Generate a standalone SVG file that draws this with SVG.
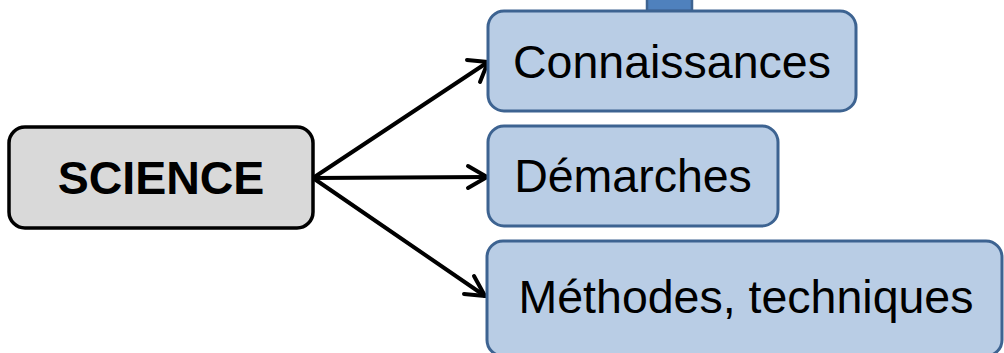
<svg xmlns="http://www.w3.org/2000/svg" width="1004" height="353" viewBox="0 0 1004 353">
<defs>
<style>
.blue{fill:#B9CDE5;stroke:#3D6391;stroke-width:3}
.grey{fill:#D9D9D9;stroke:#000;stroke-width:3.5}
.t{font-family:"Liberation Sans",Arial,sans-serif;font-size:46.5px;fill:#000;text-anchor:middle}
.b{font-weight:bold;font-size:46.5px}
.c{fill:none;stroke:#000;stroke-width:4;stroke-linecap:round;stroke-linejoin:round}
</style>
</defs>
<g id="top-bar"><rect x="647" y="-4" width="45" height="15" fill="#4F81BD" stroke="#3D6391" stroke-width="2.5"/></g>
<g id="connectors">
<line class="c" x1="313" y1="178" x2="488" y2="62"/>
<polyline class="c" points="467,60 488,62 480,82"/>
<line class="c" x1="313" y1="178" x2="487" y2="177"/>
<polyline class="c" points="468,166 487,177 468,188"/>
<line class="c" x1="313" y1="178" x2="485" y2="296"/>
<polyline class="c" points="474,276 485,296 464,294"/>
</g>
<g id="science"><rect class="grey" x="9" y="127" width="304" height="101" rx="16"/><text class="t b" x="161" y="194">SCIENCE</text></g>
<g id="connaissances"><rect class="blue" x="488" y="11" width="368" height="100" rx="16"/><text class="t" x="672" y="78">Connaissances</text></g>
<g id="demarches"><rect class="blue" x="488" y="126" width="290" height="100" rx="16"/><text class="t" x="633" y="192">Démarches</text></g>
<g id="methodes"><rect class="blue" x="487" y="241" width="515" height="115" rx="16"/><text class="t" x="746" y="313">Méthodes, techniques</text></g>
</svg>
